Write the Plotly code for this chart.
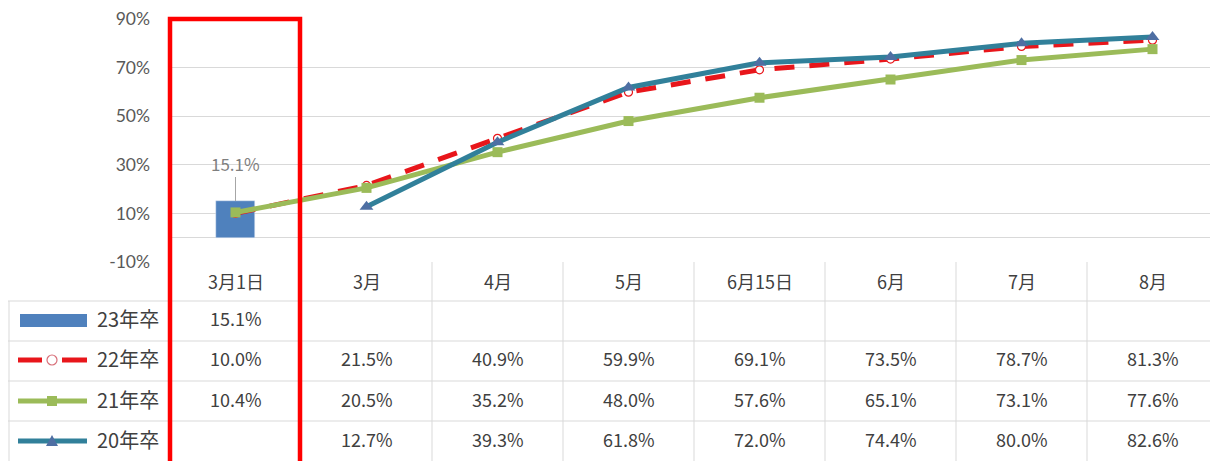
import plotly.graph_objects as go

categories = ['3月1日', '3月', '4月', '5月', '6月15日', '6月', '7月', '8月']
series_names = ['23年卒', '22年卒', '21年卒', '20年卒']
s23 = [15.1, None, None, None, None, None, None, None]
s22 = [10.0, 21.5, 40.9, 59.9, 69.1, 73.5, 78.7, 81.3]
s21 = [10.4, 20.5, 35.2, 48.0, 57.6, 65.1, 73.1, 77.6]
s20 = [None, 12.7, 39.3, 61.8, 72.0, 74.4, 80.0, 82.6]
y_ticks = [-10, 10, 30, 50, 70, 90]
y_tick_text = [f'{v}%' for v in y_ticks]

# page offset (browser body margin)
OFF = 8
SW, SH = 1218, 461                     # screen size
W, H = SW - OFF, SH - OFF              # figure size
PL, PR, PT, PB = 170, 1218, 19, 262    # plot area in screen pixels


def px_x(px):
    return (px - PL) / (PR - PL)


def px_y(py):
    return (PB - py) / (PB - PT)


C_BAR = '#4F81BD'
C_RED = '#E8161B'
C_GREEN = '#9BBB59'
C_TEAL = '#31809A'
C_TRI = '#4E6FA3'
TXT = '#404040'
GRID = '#D9D9D9'
FONT = 'Noto Sans CJK JP'

fig = go.Figure()
fig.add_trace(go.Bar(x=categories, y=s23, name=series_names[0], marker_color=C_BAR,
                     width=0.3, showlegend=False))
fig.add_trace(go.Scatter(x=categories, y=s22, name=series_names[1], mode='lines+markers',
                         line=dict(color=C_RED, width=5, dash='20px,15px'),
                         marker=dict(symbol='circle', size=8, color='white',
                                     line=dict(color=C_RED, width=1.2)),
                         showlegend=False))
fig.add_trace(go.Scatter(x=categories, y=s21, name=series_names[2], mode='lines+markers',
                         line=dict(color=C_GREEN, width=5),
                         marker=dict(symbol='square', size=10, color=C_GREEN),
                         showlegend=False))
fig.add_trace(go.Scatter(x=categories, y=s20, name=series_names[3], mode='lines+markers',
                         line=dict(color=C_TEAL, width=5),
                         marker=dict(symbol='triangle-up', size=12, color=C_TRI),
                         showlegend=False))

annotations = []
shapes = []

# bar data label
annotations.append(dict(x=categories[0], y=s23[0], xref='x', yref='y',
                        text=f'{s23[0]:.1f}%', showarrow=True, arrowhead=0,
                        arrowcolor='#A6A6A6', arrowwidth=1, ax=0, ay=-38,
                        font=dict(family=FONT, size=17, color='#7F7F7F')))

# table header row
header_py = 283
SHIFT18 = -13
SHIFT20 = -15
for c in categories:
    annotations.append(dict(x=c, y=px_y(header_py), xref='x', yref='paper', text=c,
                            showarrow=False, yshift=SHIFT18,
                            font=dict(family=FONT, size=18, color=TXT)))

row_centers = [320, 360, 401, 441]
row_lines = [301, 341, 381, 421]
all_series = [s23, s22, s21, s20]
for rc, vals, name in zip(row_centers, all_series, series_names):
    for c, v in zip(categories, vals):
        if v is not None:
            annotations.append(dict(x=c, y=px_y(rc), xref='x', yref='paper',
                                    text=f'{v:.1f}%', showarrow=False, yshift=SHIFT18,
                                    font=dict(family=FONT, size=18, color=TXT)))
    annotations.append(dict(x=px_x(95), y=px_y(rc), xref='paper', yref='paper',
                            text=name, showarrow=False, xanchor='left', yshift=SHIFT20,
                            font=dict(family=FONT, size=20, color=TXT)))

# table grid lines
for ly in row_lines:
    shapes.append(dict(type='line', xref='paper', yref='paper', x0=px_x(8), x1=1,
                       y0=px_y(ly), y1=px_y(ly), line=dict(color=GRID, width=1)))
for k in range(len(categories) + 1):
    shapes.append(dict(type='line', xref='x', yref='paper', x0=k - 0.5, x1=k - 0.5,
                       y0=px_y(262), y1=px_y(470), line=dict(color=GRID, width=1)))
shapes.append(dict(type='line', xref='paper', yref='paper', x0=px_x(9), x1=px_x(9),
                   y0=px_y(301), y1=px_y(470), line=dict(color=GRID, width=1)))

# legend keys
kx0, kx1, kc = px_x(18), px_x(87), px_x(52)
# bar key
shapes.append(dict(type='rect', xref='paper', yref='paper', x0=px_x(20), x1=kx1,
                   y0=px_y(327), y1=px_y(314), fillcolor=C_BAR, line=dict(width=0)))
# 22 key
ky = px_y(row_centers[1])
shapes.append(dict(type='line', xref='paper', yref='paper', x0=kx0, x1=px_x(42),
                   y0=ky, y1=ky, line=dict(color=C_RED, width=5)))
shapes.append(dict(type='line', xref='paper', yref='paper', x0=px_x(62), x1=kx1,
                   y0=ky, y1=ky, line=dict(color=C_RED, width=5)))
shapes.append(dict(type='circle', xref='paper', yref='paper', xsizemode='pixel',
                   ysizemode='pixel', xanchor=kc, yanchor=ky, x0=-5, x1=5, y0=-5, y1=5,
                   fillcolor='white', line=dict(color='#D8707A', width=1.2)))
# 21 key
ky = px_y(row_centers[2])
shapes.append(dict(type='line', xref='paper', yref='paper', x0=kx0, x1=kx1,
                   y0=ky, y1=ky, line=dict(color=C_GREEN, width=5)))
shapes.append(dict(type='rect', xref='paper', yref='paper', xsizemode='pixel',
                   ysizemode='pixel', xanchor=kc, yanchor=ky, x0=-5, x1=5, y0=-5, y1=5,
                   fillcolor=C_GREEN, line=dict(width=0)))
# 20 key
ky = px_y(row_centers[3])
shapes.append(dict(type='line', xref='paper', yref='paper', x0=kx0, x1=kx1,
                   y0=ky, y1=ky, line=dict(color=C_TEAL, width=5)))
shapes.append(dict(type='path', xref='paper', yref='paper', xsizemode='pixel',
                   ysizemode='pixel', xanchor=kc, yanchor=ky,
                   path='M -6 -5 L 6 -5 L 0 6 Z', fillcolor=C_TRI, line=dict(width=0)))

# red highlight box
shapes.append(dict(type='rect', xref='paper', yref='paper', x0=px_x(170), x1=px_x(300),
                   y0=px_y(475), y1=px_y(19), line=dict(color='#FF0000', width=4.5),
                   fillcolor='rgba(0,0,0,0)', layer='above'))

fig.update_layout(
    width=W, height=H,
    margin=dict(l=PL - OFF, r=SW - PR, t=PT - OFF, b=SH - PB, autoexpand=False),
    paper_bgcolor='white', plot_bgcolor='white',
    showlegend=False,
    annotations=annotations, shapes=shapes,
    bargap=0,
)
fig.update_xaxes(type='category', categoryorder='array', categoryarray=categories,
                 range=[-0.5, len(categories) - 0.5], showticklabels=False,
                 showgrid=False, zeroline=False, showline=False, ticks='')
fig.update_yaxes(range=[-10, 90], tickvals=y_ticks, ticktext=y_tick_text,
                 showgrid=True, gridcolor=GRID, gridwidth=1,
                 zeroline=True, zerolinecolor=GRID, zerolinewidth=1,
                 tickfont=dict(family='Lato', size=17.5, color='#595959'),
                 ticklabelstandoff=19, ticklabeloverflow='allow',
                 automargin=False, showline=False, ticks='')

fig.write_html('out.html')
